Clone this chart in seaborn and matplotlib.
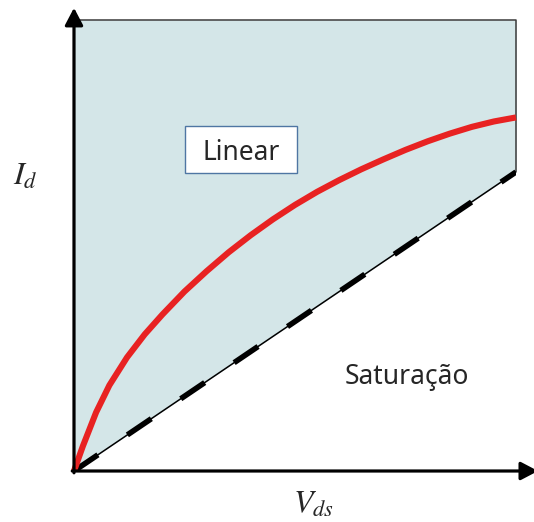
import numpy as np
import pandas as pd
import matplotlib
matplotlib.use("Agg")
import matplotlib.pyplot as plt
import seaborn as sns
from matplotlib.patches import Rectangle

# Curve (Vds normalised 0..1, Id normalised 0..1)
vds_curve = [0.0, 0.02, 0.05, 0.08, 0.12, 0.16, 0.20, 0.25, 0.30, 0.35, 0.40,
             0.45, 0.50, 0.55, 0.60, 0.65, 0.70, 0.75, 0.80, 0.85, 0.90,
             0.95, 1.0]
id_curve = [0.0, 0.055, 0.13, 0.19, 0.252, 0.303, 0.347, 0.398, 0.443, 0.485,
            0.523, 0.558, 0.590, 0.619, 0.645, 0.669, 0.691, 0.712, 0.731,
            0.748, 0.763, 0.775, 0.784]

# boundary between linear and saturation region (Vds = Vgs - Vt)
vds_limit = [0.0, 1.0]
id_limit = [0.0, 0.663]

region_labels = ["Linear", "Saturação"]
x_label = "$V_{ds}$"
y_label = "$I_d$"

sns.set_style("white")
plt.rcParams["mathtext.fontset"] = "stix"

fig = plt.figure(figsize=(5.34, 5.22), dpi=100)
ax = fig.add_axes([74 / 534, 51 / 522, 442 / 534, 451 / 522])
ax.set_xlim(0, 1)
ax.set_ylim(0, 1)
ax.axis("off")

df_curve = pd.DataFrame({"Vds": vds_curve, "Id": id_curve})
df_limit = pd.DataFrame({"Vds": vds_limit, "Id": id_limit})

# shaded linear region above the boundary
xs = np.array(vds_limit)
ax.fill_between(xs, np.array(id_limit), 1.0, color="#d4e6e8", lw=0, zorder=1)
ax.plot([0, 1, 1], [1, 1, id_limit[-1]], color="#3a3a3a", lw=1.1, zorder=2,
        clip_on=False)

# boundary: thin line plus thick dashes
sns.lineplot(data=df_limit, x="Vds", y="Id", color="black", lw=1.1, ax=ax,
             zorder=3)
sns.lineplot(data=df_limit, x="Vds", y="Id", color="black", lw=4.0, ax=ax,
             linestyle=(0, (5.2, 6.4)), zorder=3)

# Id curve
sns.lineplot(data=df_curve, x="Vds", y="Id", color="#e82222", lw=4.4, ax=ax,
             zorder=4, clip_on=False, solid_joinstyle="round",
             solid_capstyle="butt")

# axes arrows
arrow = dict(arrowstyle="-|>,head_length=1.05,head_width=0.55", lw=2.3,
             color="black", mutation_scale=10, shrinkA=0, shrinkB=0)
ax.annotate("", xy=(0, 1.027), xytext=(0, -0.004), arrowprops=arrow,
            annotation_clip=False, zorder=5)
ax.annotate("", xy=(1.05, 0), xytext=(-0.004, 0), arrowprops=arrow,
            annotation_clip=False, zorder=5)

# labels
ax.text(-0.138, 0.634, y_label, fontsize=23, ha="left", va="baseline")
ax.text(0.4955, -0.093, x_label, fontsize=23, ha="left", va="baseline")

ax.add_patch(Rectangle((0.251, 0.661), 0.2535, 0.104, facecolor="white",
                       edgecolor="#4f76a3", lw=1.0, zorder=6))
ax.text(0.378, 0.69, region_labels[0], fontsize=19, family="Noto Sans",
        ha="center", va="baseline", zorder=7)
ax.text(0.7527, 0.193, region_labels[1], fontsize=19, family="Noto Sans",
        ha="center", va="baseline", zorder=7)

fig.savefig("out.png", dpi=100)
